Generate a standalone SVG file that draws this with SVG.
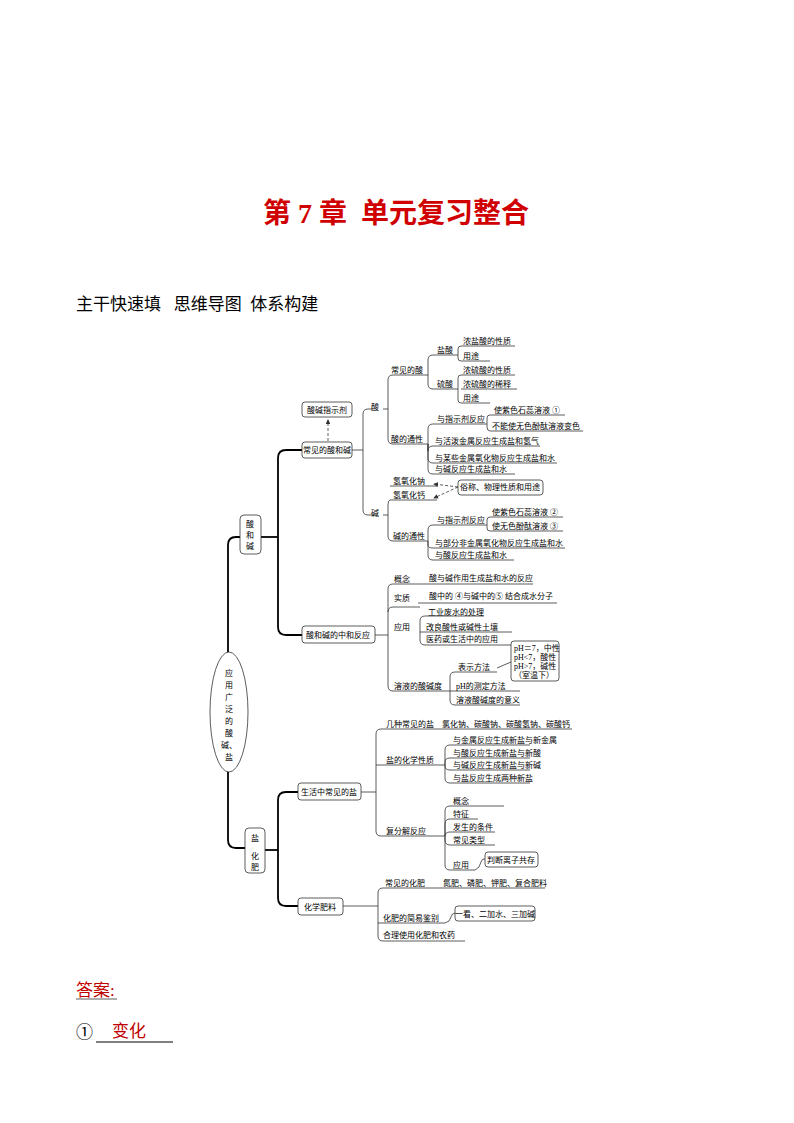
<svg xmlns="http://www.w3.org/2000/svg" width="794" height="1123" viewBox="0 0 794 1123">
<style>
text{font-family:"Liberation Serif","Noto Sans CJK SC",serif;fill:#000}
.t{font-size:8px}
.l{fill:none;stroke:#333;stroke-width:0.8}
.b{fill:none;stroke:#000;stroke-width:1.8}
.box{fill:#fff;stroke:#333;stroke-width:0.8}
.d{fill:none;stroke:#333;stroke-width:0.8;stroke-dasharray:3 2}
</style>
<defs><marker id="a" markerWidth="6" markerHeight="6" refX="5" refY="3" orient="auto"><path d="M0,0 L6,3 L0,6" fill="#333"/></marker></defs>
<rect width="794" height="1123" fill="#fff"/>
<text x="396" y="223" text-anchor="middle" font-size="28" font-weight="bold" style="fill:#d00000" xml:space="preserve">第 7 章  单元复习整合</text>
<text x="76" y="310" font-size="17" xml:space="preserve">主干快速填   思维导图  体系构建</text>
<text x="76" y="996" font-size="17" style="fill:#c00000">答案:</text>
<line x1="76" y1="999" x2="117" y2="999" stroke="#333" stroke-width="0.8"/>
<text x="76" y="1038" font-size="17">①</text>
<text x="112" y="1037" font-size="17" style="fill:#c00000">变化</text>
<line x1="96" y1="1042" x2="173" y2="1042" stroke="#000" stroke-width="1"/>

<g id="connectors">
<path class="b" d="M228,652 V545 Q228,537 236,537 H240"/>
<path class="b" d="M228,772 V840 Q228,848 236,848 H245"/>
<path class="b" d="M261,537 H278"/>
<path class="b" d="M302,450 H286 Q278,450 278,458 V627 Q278,635 286,635 H302"/>
<path class="b" d="M265,850 H278"/>
<path class="b" d="M298,792 H286 Q278,792 278,800 V898 Q278,906 286,906 H298"/>
<path class="d" d="M328,441 V420" marker-end="url(#a)"/>
<path class="l" d="M352,450 H363"/>
<path class="l" d="M373,409 H368 Q363,409 363,414 V510 Q363,515 368,515 H374"/>
<path class="l" d="M383,409 H388 M383,515 H388"/>
<path class="l" d="M428,375 H393 Q388,375 388,380 V439 Q388,444 393,444 H428"/>
<path class="l" d="M390,500 H437 M390,500 Q388,500 388,505 V536 Q388,541 393,541 H428"/>
<path class="l" d="M390,486 H437"/>
<path class="l" d="M428,375 V360 Q428,355 433,355 H458 M428,375 V384 Q428,389 433,389 H458"/>
<path class="l" d="M458,355 V349 Q458,346 461,346 H515 M458,355 V358 Q458,361 461,361 H490"/>
<path class="l" d="M458,389 V378 Q458,375 461,375 H515 M461,389 H517 M458,389 V400 Q458,403 461,403 H490"/>
<path class="l" d="M428,444 V429 Q428,424 433,424 H487 M428,444 V451 Q428,446 433,446 H540 M428,444 V458 Q428,463 433,463 H557 M428,444 V469 Q428,474 433,474 H515"/>
<path class="l" d="M487,424 V418 Q487,415 490,415 H565 M487,424 V427 Q487,431 490,431 H583"/>
<path class="d" d="M458,487 L434,484" marker-end="url(#a)"/>
<path class="d" d="M458,487 L434,498" marker-end="url(#a)"/>
<path class="l" d="M428,541 V530 Q428,525 433,525 H487 M428,541 V545 Q428,548 433,548 H565 M428,541 V555 Q428,560 433,560 H514"/>
<path class="l" d="M487,525 V520 Q487,517 490,517 H563 M487,525 V528 Q487,531 490,531 H563"/>
<path class="l" d="M375,635 H388"/>
<path class="l" d="M420,584 H393 Q388,584 388,589 V686 Q388,691 393,691 H450"/>
<path class="l" d="M420,584 Q423,584 425,584 H533"/>
<path class="l" d="M418,603 H557"/>
<path class="l" d="M388,612 Q388,607 393,607 H420"/>
<path class="l" d="M420,632 V621 Q420,616 425,616 H484 M420,632 H512 M420,632 V640 Q420,645 425,645 H525"/>
<path class="l" d="M450,691 V677 Q450,672 455,672 H497 M450,691 H520 M450,691 V700 Q450,705 455,705 H520"/>
<path class="l" d="M497,668 L511,662"/>
<path class="l" d="M361,792 H376"/>
<path class="l" d="M572,729 H381 Q376,729 376,734 V831 Q376,836 381,836 H445"/>
<path class="l" d="M376,765 H445"/>
<path class="l" d="M445,765 V750 Q445,745 450,745 H530 M445,765 V762 Q445,758 450,758 H530 M445,765 V766 Q445,770 450,770 H530 M445,765 V778 Q445,783 450,783 H530"/>
<path class="l" d="M445,836 V811 Q445,806 450,806 H504 M445,836 V824 Q445,819 450,819 H478 M445,836 V836 Q445,832 450,832 H495 M445,836 V840 Q445,845 450,845 H495 M445,836 V865 Q445,870 450,870 H475"/>
<path class="l" d="M475,870 Q480,868 481,862 Q482,858 485,859"/>
<path class="l" d="M343,906 H378"/>
<path class="l" d="M545,888 H383 Q378,888 378,893 V936 Q378,941 383,941 H465"/>
<path class="l" d="M378,923 H445 Q450,922 451,917 Q452,913 455,913"/>
</g>

<g id="root"><ellipse cx="229" cy="712" rx="19" ry="60" fill="#fff" stroke="#333" stroke-width="0.8"/>
<text class="t" x="229" text-anchor="middle"><tspan x="229" y="676">应</tspan><tspan x="229" y="688">用</tspan><tspan x="229" y="700">广</tspan><tspan x="229" y="712">泛</tspan><tspan x="229" y="724">的</tspan><tspan x="229" y="736">酸</tspan><tspan x="229" y="748">碱、</tspan><tspan x="229" y="760">盐</tspan></text></g>
<g id="n-acidbase"><rect class="box" x="240" y="515" width="21" height="39" rx="4"/><text class="t" x="250" text-anchor="middle"><tspan x="250" y="527">酸</tspan><tspan x="250" y="538">和</tspan><tspan x="250" y="549">碱</tspan></text></g>
<g id="n-salt"><rect class="box" x="245" y="828" width="20" height="45" rx="4"/><text class="t" x="255" text-anchor="middle"><tspan x="255" y="841">盐</tspan><tspan x="255" y="859">化</tspan><tspan x="255" y="870">肥</tspan></text></g>
<g id="n-indicator"><rect class="box" x="302" y="402" width="50" height="15" rx="3"/><text class="t" x="327" y="413" text-anchor="middle">酸碱指示剂</text></g>
<g id="n-common"><rect class="box" x="302" y="442" width="50" height="16" rx="3"/><text class="t" x="327" y="453" text-anchor="middle">常见的酸和碱</text></g>
<g id="n-neutral"><rect class="box" x="302" y="626" width="73" height="17" rx="3"/><text class="t" x="338" y="638" text-anchor="middle">酸和碱的中和反应</text></g>
<g id="n-life"><rect class="box" x="298" y="783" width="63" height="17" rx="3"/><text class="t" x="329" y="795" text-anchor="middle">生活中常见的盐</text></g>
<g id="n-fert"><rect class="box" x="298" y="898" width="45" height="17" rx="3"/><text class="t" x="320" y="910" text-anchor="middle">化学肥料</text></g>
<g id="n-sucheng"><rect class="box" x="458" y="480" width="85" height="15" rx="3"/><text class="t" x="500" y="490" text-anchor="middle">俗称、物理性质和用途</text></g>
<g id="n-ph"><rect class="box" x="511" y="641" width="48" height="40" rx="3"/><text class="t"><tspan x="514" y="651">pH＝7，中性</tspan><tspan x="514" y="660">pH&lt;7，酸性</tspan><tspan x="514" y="669">pH&gt;7，碱性</tspan><tspan x="514" y="678">（室温下）</tspan></text></g>
<g id="n-ion"><rect class="box" x="485" y="852" width="53" height="15" rx="3"/><text class="t" x="511" y="863" text-anchor="middle">判断离子共存</text></g>
<g id="n-jianbie"><rect class="box" x="455" y="906" width="80" height="15" rx="3"/><text class="t" x="495" y="917" text-anchor="middle">一看、二加水、三加碱</text></g>

<g id="labels" class="t">
<text class="t" x="371" y="410">酸</text><text class="t" x="371" y="516">碱</text>
<text class="t" x="391" y="373">常见的酸</text><text class="t" x="391" y="442">酸的通性</text>
<text class="t" x="437" y="353">盐酸</text><text class="t" x="437" y="387">硫酸</text>
<text class="t" x="463" y="344">浓盐酸的性质</text><text class="t" x="463" y="359">用途</text>
<text class="t" x="463" y="373">浓硫酸的性质</text><text class="t" x="463" y="387">浓硫酸的稀释</text><text class="t" x="463" y="401">用途</text>
<text class="t" x="437" y="422">与指示剂反应</text>
<text class="t" x="494" y="413">使紫色石蕊溶液 ①</text><text class="t" x="492" y="429">不能使无色酚酞溶液变色</text>
<text class="t" x="435" y="444">与活泼金属反应生成盐和氢气</text><text class="t" x="435" y="461">与某些金属氧化物反应生成盐和水</text><text class="t" x="435" y="472">与碱反应生成盐和水</text>
<text class="t" x="393" y="484">氢氧化钠</text><text class="t" x="393" y="498">氢氧化钙</text>
<text class="t" x="393" y="539">碱的通性</text><text class="t" x="437" y="523">与指示剂反应</text>
<text class="t" x="492" y="515">使紫色石蕊溶液 ②</text><text class="t" x="492" y="529">使无色酚酞溶液 ③</text>
<text class="t" x="435" y="546">与部分非金属氧化物反应生成盐和水</text><text class="t" x="435" y="558">与酸反应生成盐和水</text>
<text class="t" x="394" y="582">概念</text><text class="t" x="429" y="581">酸与碱作用生成盐和水的反应</text>
<text class="t" x="394" y="601">实质</text><text class="t" x="429" y="599">酸中的 ④与碱中的⑤ 结合成水分子</text>
<text class="t" x="394" y="630">应用</text><text class="t" x="428" y="615">工业废水的处理</text><text class="t" x="426" y="630">改良酸性或碱性土壤</text><text class="t" x="426" y="642">医药或生活中的应用</text>
<text class="t" x="394" y="689">溶液的酸碱度</text><text class="t" x="458" y="670">表示方法</text><text class="t" x="456" y="689">pH的测定方法</text><text class="t" x="456" y="703">溶液酸碱度的意义</text>
<text class="t" x="386" y="727">几种常见的盐</text><text class="t" x="442" y="727">氯化钠、碳酸钠、碳酸氢钠、碳酸钙</text>
<text class="t" x="386" y="763">盐的化学性质</text>
<text class="t" x="453" y="743">与金属反应生成新盐与新金属</text><text class="t" x="453" y="756">与酸反应生成新盐与新酸</text><text class="t" x="453" y="768">与碱反应生成新盐与新碱</text><text class="t" x="453" y="781">与盐反应生成两种新盐</text>
<text class="t" x="386" y="834">复分解反应</text>
<text class="t" x="453" y="804">概念</text><text class="t" x="453" y="817">特征</text><text class="t" x="453" y="830">发生的条件</text><text class="t" x="453" y="843">常见类型</text><text class="t" x="453" y="868">应用</text>
<text class="t" x="385" y="886">常见的化肥</text><text class="t" x="443" y="886">氮肥、磷肥、钾肥、复合肥料</text>
<text class="t" x="383" y="921">化肥的简易鉴别</text><text class="t" x="383" y="938">合理使用化肥和农药</text>
</g>
</svg>
